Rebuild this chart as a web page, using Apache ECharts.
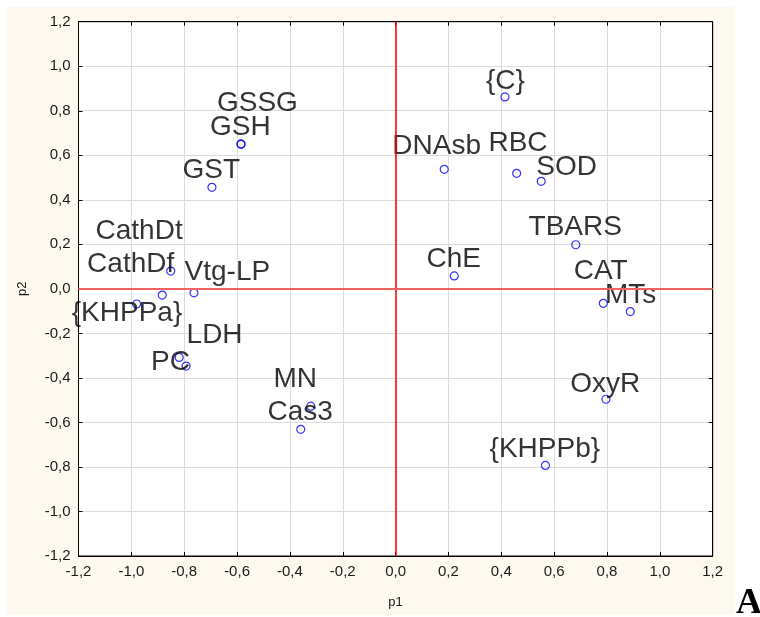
<!DOCTYPE html>
<html>
<head>
<meta charset="utf-8">
<title>p1 / p2</title>
<script src="https://cdn.jsdelivr.net/npm/echarts@6/dist/echarts.min.js"></script>
<style>
  html, body { margin: 0; padding: 0; background: #ffffff; }
  #chart { width: 760px; height: 617px; }
</style>
</head>
<body>
<div id="chart"></div>
<script>
// Variable names and their loadings on the two components
var names = ['{C}', 'DNAsb', 'RBC', 'SOD', 'TBARS', 'ChE', 'CAT', 'MTs', 'OxyR', '{KHPPb}',
             'GSSG', 'GSH', 'GST', 'CathDt', 'CathDf', 'Vtg-LP', '{KHPPa}', 'LDH', 'PC', 'MN', 'Cas3'];
var p1Values = [0.414, 0.184, 0.458, 0.551, 0.682, 0.222, 0.786, 0.888, 0.796, 0.567,
                -0.585, -0.585, -0.695, -0.851, -0.883, -0.763, -0.980, -0.819, -0.793, -0.321, -0.359];
var p2Values = [0.862, 0.537, 0.519, 0.483, 0.198, 0.058, -0.065, -0.102, -0.496, -0.793,
                0.651, 0.649, 0.456, 0.080, -0.028, -0.018, -0.068, -0.308, -0.347, -0.527, -0.631];
var axisTicks = [-1.2, -1.0, -0.8, -0.6, -0.4, -0.2, 0.0, 0.2, 0.4, 0.6, 0.8, 1.0, 1.2];

// Label placement (pixel offset of each label's centre from its point)
var labelDx = [1, -7, 2, 26, 0, 0, -2, 1, 0, 0, 17, 0, 0, -31, -31, 34, -9, 36, -15, -15, 0];
var labelDy = [-15, -22, -29, -13, -17, -16, -31, -16, -14, -16, -40, -16, -16, -39, -30, -20, 10, -22, -3, -26, -16];

var FONT = 'Arial, "Liberation Sans", sans-serif';
var SYMBOL_SIZE = 8;

function fmt(v) { return v.toFixed(1).replace('.', ','); }

// label position is given relative to the symbol's top-left corner
var points = names.map(function (n, i) {
  return {
    name: n,
    value: [p1Values[i], p2Values[i]],
    label: {
      position: [SYMBOL_SIZE / 2 + labelDx[i], SYMBOL_SIZE / 2 + labelDy[i]],
      align: 'center', verticalAlign: 'middle'
    }
  };
});

var axisMin = axisTicks[0], axisMax = axisTicks[axisTicks.length - 1];
var step = Math.round((axisTicks[1] - axisTicks[0]) * 10) / 10;

function mainAxis(extra) {
  var a = {
    type: 'value', min: axisMin, max: axisMax, interval: step,
    axisLine: { show: true, onZero: false, lineStyle: { color: '#000', width: 1 } },
    axisTick: { show: true, inside: true, length: 4, lineStyle: { color: '#000' } },
    axisLabel: { show: true, formatter: fmt, color: '#1a1a1a', fontSize: 15, fontFamily: FONT, margin: 8 },
    splitLine: { show: true, lineStyle: { color: '#dcdcdc', width: 1 } },
    nameTextStyle: { color: '#1a1a1a', fontSize: 13, fontFamily: FONT }
  };
  for (var k in extra) a[k] = extra[k];
  return a;
}
function mirrorAxis(pos) {
  return {
    type: 'value', min: axisMin, max: axisMax, interval: step, position: pos,
    axisLine: { show: true, onZero: false, lineStyle: { color: '#000', width: 1 } },
    axisTick: { show: true, inside: true, length: 4, lineStyle: { color: '#000' } },
    axisLabel: { show: false },
    splitLine: { show: false }
  };
}

var chart = echarts.init(document.getElementById('chart'), null, { renderer: 'canvas' });
chart.setOption({
  animation: false,
  backgroundColor: '#ffffff',
  graphic: [
    { type: 'rect', z: -100, silent: true, shape: { x: 7, y: 7, width: 728, height: 608 },
      style: { fill: '#fdf9ee' } },
    { type: 'text', left: 736, top: 586, silent: true,
      style: { text: 'A', fill: '#000', font: 'bold 36px "Liberation Serif", "Times New Roman", serif' } }
  ],
  grid: { left: 78.5, right: 47.3, top: 21.7, bottom: 61, show: true,
          backgroundColor: '#ffffff', borderColor: '#000', borderWidth: 1 },
  xAxis: [
    mainAxis({ position: 'bottom', name: 'p1', nameLocation: 'middle', nameGap: 40 }),
    mirrorAxis('top')
  ],
  yAxis: [
    mainAxis({ position: 'left', name: 'p2', nameLocation: 'middle', nameGap: 50, nameRotate: 90 }),
    mirrorAxis('right')
  ],
  series: [{
    type: 'scatter',
    xAxisIndex: 0, yAxisIndex: 0,
    symbol: 'circle',
    symbolSize: SYMBOL_SIZE,
    itemStyle: { color: 'rgba(0,0,0,0)', borderColor: '#0000ff', borderWidth: 1.2 },
    label: {
      show: true, formatter: '{b}',
      color: '#000', fontSize: 28, fontFamily: FONT
    },
    labelLayout: { hideOverlap: false },
    emphasis: { disabled: true },
    data: points,
    markLine: {
      silent: true, symbol: 'none', animation: false,
      label: { show: false },
      data: [
        { xAxis: 0, lineStyle: { color: '#ff0000', width: 1.5, type: 'solid' } },
        { yAxis: 0, lineStyle: { color: '#f06262', width: 2, type: 'solid' } }
      ]
    }
  }]
});
</script>
</body>
</html>
